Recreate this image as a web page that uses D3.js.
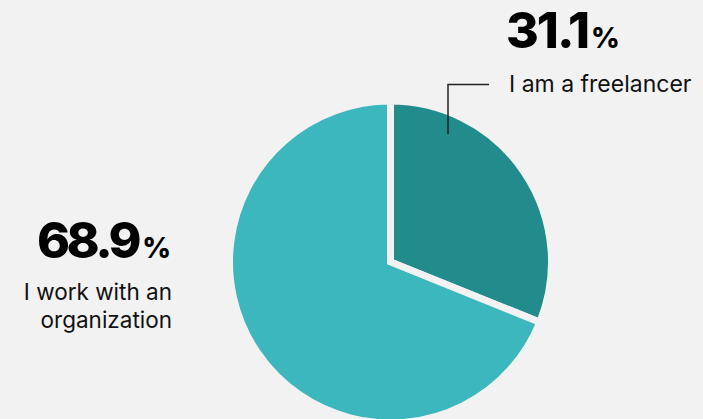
<!DOCTYPE html>
<html><head><meta charset="utf-8">
<script src="https://cdn.jsdelivr.net/npm/d3@7/dist/d3.min.js"></script>
<style>html,body{margin:0;padding:0;background:#f2f2f2;}svg{display:block;}</style>
</head><body>
<svg id="c" width="703" height="419"></svg>
<script>
const categories = ["I am a freelancer", "I work with an organization"];
const values = [31.1, 68.9];
const colors = ["#228b8b", "#3bb7bd"];

const svg = d3.select("#c");
const cx = 390.5, cy = 262, R = 161;
const pie = d3.pie().sort(null).value(d => d)(values);
const arc = d3.arc().innerRadius(0).outerRadius(R);
const g = svg.append("g").attr("transform", `translate(${cx},${cy})`);
g.selectAll("path").data(pie).join("path")
  .attr("d", arc)
  .attr("fill", (d, i) => colors[i])
  .attr("stroke", "#f2f2f2")
  .attr("stroke-width", 7)
  .attr("stroke-linejoin", "miter");

const font = "Inter, 'Noto Sans', sans-serif";
// freelancer label
const t1 = svg.append("text").attr("x", 506).attr("y", 48)
  .attr("font-family", font).attr("font-weight", 800).attr("fill", "#000")
  .attr("font-size", 50).attr("letter-spacing", -2);
t1.append("tspan").text(values[0].toFixed(1));
t1.append("tspan").attr("font-size", 28).attr("letter-spacing", 0).attr("dx", 3).text("%");
svg.append("text").attr("x", 509).attr("y", 92)
  .attr("font-family", font).attr("font-weight", 400).attr("fill", "#111")
  .attr("font-size", 23).text(categories[0]);
svg.append("path").attr("d", "M448,134V84.5H489")
  .attr("fill", "none").attr("stroke", "#222").attr("stroke-width", 1.5);

// organization label
const t2 = svg.append("text").attr("x", 171).attr("y", 258).attr("text-anchor", "end")
  .attr("font-family", font).attr("font-weight", 800).attr("fill", "#000")
  .attr("font-size", 50).attr("letter-spacing", -3.5);
t2.append("tspan").text(values[1].toFixed(1));
t2.append("tspan").attr("font-size", 28).attr("letter-spacing", 0).attr("dx", 4).text("%");
const lines = ["I work with an", "organization"];
svg.selectAll("text.l2").data(lines).join("text").attr("class", "l2")
  .attr("x", 172).attr("y", (d, i) => 300 + i * 28).attr("text-anchor", "end")
  .attr("font-family", font).attr("font-size", 22.5).attr("fill", "#111").text(d => d);
</script>
</body></html>
